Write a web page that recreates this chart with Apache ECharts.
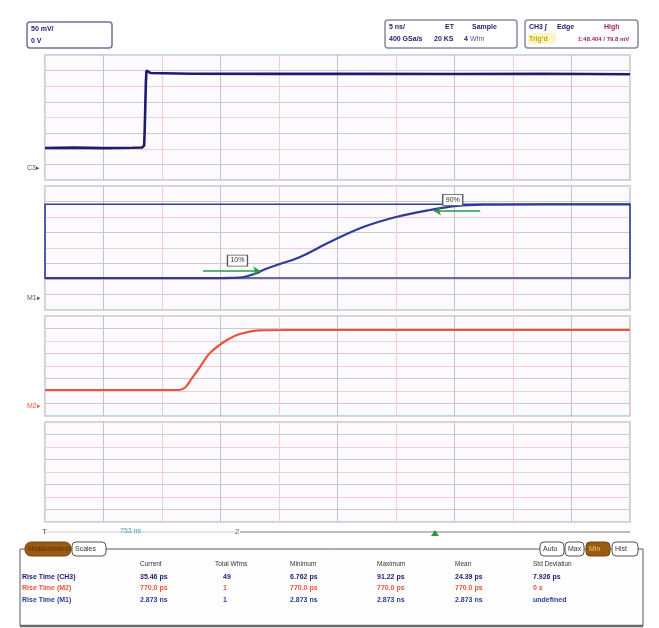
<!DOCTYPE html>
<html>
<head>
<meta charset="utf-8">
<script src="https://cdn.jsdelivr.net/npm/echarts@6/dist/echarts.min.js"></script>
<style>html,body{margin:0;padding:0;background:#fff}#c{width:659px;height:628px}</style>
</head>
<body>
<div id="c"></div>
<script>
// ---- data (x in horizontal divisions, y in vertical divisions) ----
const c3X = [0, 0.5, 1.0, 1.5, 1.66, 1.695, 1.705, 1.715, 1.725, 1.735, 1.80, 2.5, 4, 5.5, 7, 8.5, 10];
const c3Y = [2.05, 2.07, 2.04, 2.06, 2.08, 2.2, 3.3, 4.8, 6.3, 7.0, 6.85, 6.8, 6.79, 6.8, 6.78, 6.8, 6.77];

const m1X = [0, 1.5, 3.0, 3.2, 3.4, 3.6, 3.73, 4.0, 4.36, 4.87, 5.44, 6.0, 6.58, 7.04, 7.5, 8.5, 10];
const m1Y = [2.06, 2.06, 2.06, 2.07, 2.13, 2.35, 2.58, 2.95, 3.42, 4.39, 5.35, 6.0, 6.45, 6.72, 6.8, 6.82, 6.82];

const m2X = [0, 1.5, 2.3, 2.4, 2.5, 2.65, 2.82, 3.11, 3.33, 3.68, 4.2, 7, 10];
const m2Y = [2.08, 2.08, 2.09, 2.3, 2.95, 3.92, 5.04, 6.08, 6.56, 6.85, 6.88, 6.88, 6.88];

const boxRange = [2.06, 6.82];
const arrow10 = {from: [2.7, 2.52], to: [3.68, 2.52], label: '10%', at: [3.29, 3.19]};
const arrow90 = {from: [7.44, 6.39], to: [6.65, 6.39], label: '90%', at: [6.97, 7.1]};

const measHeaders = ['Current', 'Total Wfms', 'Minimum', 'Maximum', 'Mean', 'Std Deviation'];
const measNames = ['Rise Time (CH3)', 'Rise Time (M2)', 'Rise Time (M1)'];
const measCurrent = ['35.46 ps', '770.0 ps', '2.873 ns'];
const measWfms = ['49', '1', '1'];
const measMin = ['6.762 ps', '770.0 ps', '2.873 ns'];
const measMax = ['91.22 ps', '770.0 ps', '2.873 ns'];
const measMean = ['24.39 ps', '770.0 ps', '2.873 ns'];
const measStd = ['7.926 ps', '0 s', 'undefined'];

// ---- layout ----
const L = 45, W = 585;
const panels = [
  {top: 55, height: 125},
  {top: 186, height: 124},
  {top: 316, height: 100},
  {top: 422, height: 100}
];
const font = 'Liberation Sans';
const navy = '#1f1b6e', blue = '#2d3c99', red = '#e8553c', green = '#2b9a48';

const zip = (xs, ys) => xs.map((x, i) => [x, ys[i]]);

const grids = panels.map(p => ({
  left: L, top: p.top, width: W, height: p.height,
  show: true, backgroundColor: '#fcfafd', borderColor: '#a6cde0', borderWidth: 1.5
}));
const xAxes = panels.map((p, i) => ({
  gridIndex: i, type: 'value', min: 0, max: 10, interval: 1,
  axisLine: {show: false}, axisTick: {show: false}, axisLabel: {show: false},
  splitLine: {show: true, lineStyle: {color: ['#f3cdd3', '#c2c2cc'], width: 1}}
}));
const yAxes = panels.map((p, i) => ({
  gridIndex: i, type: 'value', min: 0, max: 8, interval: 1,
  axisLine: {show: false}, axisTick: {show: false}, axisLabel: {show: false},
  splitLine: {show: true, lineStyle: {color: ['#f3cdd3', '#c8cad3'], width: 1}}
}));

function pctMark(a) {
  return {
    silent: true,
    symbol: 'rect', symbolSize: [20, 11],
    itemStyle: {color: '#fff', borderColor: '#555', borderWidth: 1},
    label: {show: true, position: 'inside', formatter: a.label, fontSize: 7, color: '#333', fontFamily: font},
    data: [{coord: a.at}]
  };
}

const series = [
  {
    type: 'line', xAxisIndex: 0, yAxisIndex: 0, data: zip(c3X, c3Y),
    showSymbol: false, lineStyle: {color: navy, width: 2.6}, animation: false
  },
  {
    type: 'line', xAxisIndex: 1, yAxisIndex: 1, data: zip(m1X, m1Y), smooth: 0.35,
    showSymbol: false, lineStyle: {color: blue, width: 2.2}, animation: false,
    markArea: {
      silent: true,
      itemStyle: {color: 'rgba(0,0,0,0)', borderColor: '#2f3f95', borderWidth: 1.6},
      data: [[{coord: [0, boxRange[0]]}, {coord: [10, boxRange[1]]}]]
    },
    markLine: {
      silent: true, symbol: ['none', 'arrow'], symbolSize: 7,
      lineStyle: {color: green, width: 1.6, type: 'solid'}, label: {show: false},
      data: [
        [{coord: arrow10.from}, {coord: arrow10.to}],
        [{coord: arrow90.from}, {coord: arrow90.to}]
      ]
    }
  },
  {
    type: 'scatter', xAxisIndex: 1, yAxisIndex: 1, data: [], animation: false,
    markPoint: pctMark(arrow10)
  },
  {
    type: 'scatter', xAxisIndex: 1, yAxisIndex: 1, data: [], animation: false,
    markPoint: pctMark(arrow90)
  },
  {
    type: 'line', xAxisIndex: 2, yAxisIndex: 2, data: zip(m2X, m2Y), smooth: 0.35,
    showSymbol: false, lineStyle: {color: red, width: 2.2}, animation: false
  }
];

// ---- chrome (header boxes, timeline, measurement table) ----
const TX = (x, y, text, color, size, weight) => ({
  type: 'text', x, y, silent: true,
  style: {text, fill: color || navy, fontSize: size || 7, fontWeight: weight || 'bold', fontFamily: font, textAlign: 'left', textVerticalAlign: 'middle'}
});
const R = (x, y, w, h, stroke, fill, lw, r) => ({
  type: 'rect', silent: true, shape: {x, y, width: w, height: h, r: r || 0},
  style: {stroke: stroke, fill: fill || 'none', lineWidth: lw || 1}
});

const graphic = [];
// header boxes
graphic.push(R(27, 22, 85, 26, '#70709a', '#fff', 1.5, 3));
graphic.push(TX(31, 29, '50 mV/', navy));
graphic.push(TX(31, 41, '0 V', navy));
graphic.push(R(385, 20, 132, 28, '#8a8a9a', '#fff', 1.5, 3));
graphic.push(TX(389, 27, '5 ns/', navy));
graphic.push(TX(445, 27, 'ET', navy));
graphic.push(TX(472, 27, 'Sample', navy));
graphic.push(TX(389, 39, '400 GSa/s', navy));
graphic.push(TX(434, 39, '20 KS', navy));
graphic.push(TX(464, 39, '4', navy));
graphic.push(TX(470, 39, 'Wfm', '#6a4ab0', 7, 'normal'));
graphic.push(R(525, 20, 113, 28, '#8a8a9a', '#fff', 1.5, 3));
graphic.push(TX(529, 27, 'CH3 \u222B', navy));
graphic.push(TX(557, 27, 'Edge', navy));
graphic.push(TX(604, 27, 'High', '#a3206a'));
graphic.push(R(528, 33, 28, 11, 'none', '#fbf6c8', 1));
graphic.push(TX(529, 39, "Trig'd", '#c2ac00'));
graphic.push(TX(578, 39, '1:48.404 / 79.8 mV', '#a3206a', 6));

// channel markers
graphic.push(TX(27, 168, 'C3\u25B8', '#555', 7, 'normal'));
graphic.push(TX(27, 298, 'M1\u25B8', '#555', 7, 'normal'));
graphic.push(TX(27, 406, 'M2\u25B8', red, 7, 'normal'));

// timeline
graphic.push({type: 'line', silent: true, shape: {x1: 45, y1: 532, x2: 237, y2: 532}, style: {stroke: '#d4c6dc', lineWidth: 1}});
graphic.push({type: 'line', silent: true, shape: {x1: 240, y1: 532, x2: 630, y2: 532}, style: {stroke: '#7a7a80', lineWidth: 1.2}});
graphic.push(TX(42, 532, 'T', '#555', 8, 'normal'));
graphic.push(TX(120, 531, '753 ns', '#4aa0b0', 7, 'normal'));
graphic.push(TX(235, 532, '2', '#666', 8, 'normal'));
graphic.push({type: 'polygon', silent: true, shape: {points: [[431, 536], [439, 536], [435, 530]]}, style: {fill: green}});

// measurement table
graphic.push(R(20, 549, 623, 77, '#5a5a5a', '#fdfdfd', 1));
graphic.push({type: 'line', silent: true, shape: {x1: 20, y1: 626, x2: 643, y2: 626}, style: {stroke: '#6a6a6a', lineWidth: 2.5}});
graphic.push(R(25, 542, 46, 14, '#7a4a10', '#9a5a12', 1, 6));
graphic.push(TX(28, 549, 'Measurements', '#5a3008', 6.5, 'normal'));
graphic.push(R(72, 542, 34, 14, '#555', '#fff', 1, 4));
graphic.push(TX(75, 549, 'Scales', '#333', 7, 'normal'));
const btns = [['Auto', 540, 24, false], ['Max', 565, 19, false], ['Min', 586, 24, true], ['Hist', 612, 26, false]];
btns.forEach(b => {
  graphic.push(R(b[1], 542, b[2], 14, b[3] ? '#7a4a10' : '#555', b[3] ? '#9a5a12' : '#fff', 1, 4));
  graphic.push(TX(b[1] + 3, 549, b[0], b[3] ? '#f0c080' : '#333', 7, 'normal'));
});
const colX = [140, 215, 290, 377, 455, 533];
measHeaders.forEach((h, i) => graphic.push(TX(colX[i], 564, h, '#333', 6.5, 'normal')));
const rowY = [577, 588, 600];
const rowColor = [navy, red, blue];
const cols = [measCurrent, measWfms, measMin, measMax, measMean, measStd];
measNames.forEach((n, r) => {
  graphic.push(TX(22, rowY[r], n, rowColor[r], 7, 'bold'));
  cols.forEach((c, i) => {
    const x = i === 1 ? colX[i] + 8 : colX[i];
    graphic.push(TX(x, rowY[r], c[r], rowColor[r], 7, 'bold'));
  });
});

const chart = echarts.init(document.getElementById('c'), null, {renderer: 'canvas'});
chart.setOption({
  animation: false,
  backgroundColor: '#fff',
  grid: grids, xAxis: xAxes, yAxis: yAxes, series,
  graphic: {elements: graphic}
});
</script>
</body>
</html>
